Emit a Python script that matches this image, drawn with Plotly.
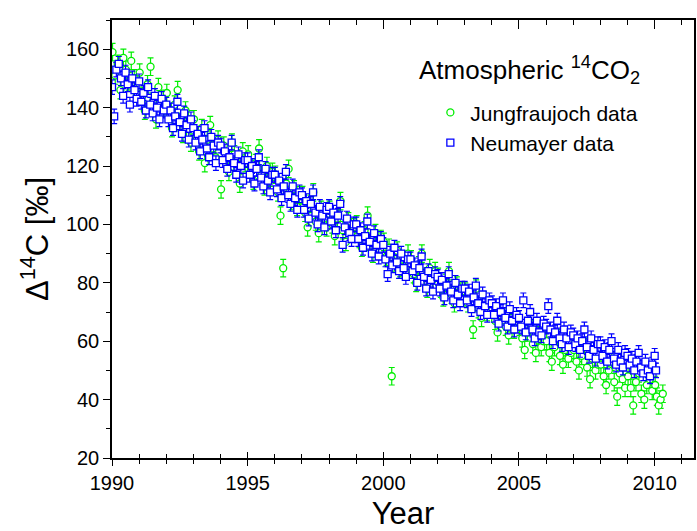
import plotly.graph_objects as go

# ---------------- data ----------------
# Jungfraujoch: year, Delta14C (permil)
jf_year = [
    1990.02, 1990.12, 1990.21, 1990.31, 1990.42, 1990.51, 1990.62, 1990.71, 1990.82, 1990.91,
    1991.02, 1991.12, 1991.21, 1991.31, 1991.42, 1991.51, 1991.62, 1991.71, 1991.82, 1991.91,
    1992.02, 1992.12, 1992.21, 1992.31, 1992.42, 1992.51, 1992.62, 1992.71, 1992.82, 1992.91,
    1993.02, 1993.12, 1993.21, 1993.31, 1993.42, 1993.51, 1993.62, 1993.71, 1993.82, 1993.91,
    1994.02, 1994.12, 1994.21, 1994.31, 1994.42, 1994.51, 1994.62, 1994.71, 1994.82, 1994.91,
    1995.02, 1995.12, 1995.21, 1995.31, 1995.42, 1995.51, 1995.62, 1995.71, 1995.82, 1995.91,
    1996.02, 1996.12, 1996.21, 1996.31, 1996.42, 1996.51, 1996.62, 1996.71, 1996.82, 1996.91,
    1997.02, 1997.12, 1997.21, 1997.31, 1997.42, 1997.51, 1997.62, 1997.71, 1997.82, 1997.91,
    1998.02, 1998.12, 1998.21, 1998.31, 1998.42, 1998.51, 1998.62, 1998.71, 1998.82, 1998.91,
    1999.02, 1999.12, 1999.21, 1999.31, 1999.42, 1999.51, 1999.62, 1999.71, 1999.82, 1999.91,
    2000.02, 2000.12, 2000.21, 2000.31, 2000.42, 2000.51, 2000.62, 2000.71, 2000.82, 2000.91,
    2001.02, 2001.12, 2001.21, 2001.31, 2001.42, 2001.51, 2001.62, 2001.71, 2001.82, 2001.91,
    2002.02, 2002.12, 2002.21, 2002.31, 2002.42, 2002.51, 2002.62, 2002.71, 2002.82, 2002.91,
    2003.02, 2003.12, 2003.21, 2003.31, 2003.42, 2003.51, 2003.62, 2003.71, 2003.82, 2003.91,
    2004.02, 2004.12, 2004.21, 2004.31, 2004.42, 2004.51, 2004.62, 2004.71, 2004.82, 2004.91,
    2005.02, 2005.12, 2005.21, 2005.31, 2005.42, 2005.51, 2005.62, 2005.71, 2005.82, 2005.91,
    2006.02, 2006.12, 2006.21, 2006.31, 2006.42, 2006.51, 2006.62, 2006.71, 2006.82, 2006.91,
    2007.02, 2007.12, 2007.21, 2007.31, 2007.42, 2007.51, 2007.62, 2007.71, 2007.82, 2007.91,
    2008.02, 2008.12, 2008.21, 2008.31, 2008.42, 2008.51, 2008.62, 2008.71, 2008.82, 2008.91,
    2009.02, 2009.12, 2009.21, 2009.31, 2009.42, 2009.51, 2009.62, 2009.71, 2009.82, 2009.91,
    2010.02, 2010.08, 2010.15, 2010.22, 2010.30]
jf_d14c = [
    159, 151, 155, 146, 157, 153, 149, 156, 150, 145,
    152, 144, 139, 148, 154, 142, 136, 147, 143, 140,
    145, 138, 133, 141, 146, 135, 131, 139, 136, 128,
    136, 130, 125, 133, 121, 129, 134, 126, 123, 129,
    112, 127, 122, 118, 128, 124, 119, 114, 125, 121,
    124, 119, 115, 121, 126, 117, 113, 120, 116, 118,
    117, 111, 103, 85, 114, 119, 108, 112, 106, 110,
    110, 104, 99, 107, 111, 101, 97, 105, 102, 99,
    105, 100, 96, 102, 108, 98, 94, 101, 97, 99,
    100, 95, 92, 98, 103, 94, 90, 97, 93, 95,
    94, 89, 92, 48, 87, 91, 85, 88, 84, 90,
    88, 83, 80, 86, 90, 82, 78, 85, 81, 84,
    82, 78, 75, 80, 84, 76, 73, 79, 77, 75,
    77, 73, 75, 64, 78, 71, 68, 74, 70, 72,
    71, 67, 63, 69, 72, 65, 62, 68, 64, 66,
    65, 61, 57, 63, 66, 59, 56, 62, 58, 60,
    60, 56, 53, 58, 61, 55, 52, 57, 54, 56,
    57, 53, 50, 55, 58, 51, 47, 54, 50, 52,
    52, 48, 45, 50, 53, 46, 41, 49, 47, 44,
    48, 44, 38, 46, 49, 42, 40, 45, 47, 43,
    45, 41, 38, 40, 42]

# Neumayer: year, Delta14C (permil)
nm_year = [
    1990.00, 1990.08, 1990.16, 1990.25, 1990.33, 1990.41, 1990.50, 1990.58, 1990.66, 1990.75, 1990.83, 1990.91,
    1991.00, 1991.08, 1991.16, 1991.25, 1991.33, 1991.41, 1991.50, 1991.58, 1991.66, 1991.75, 1991.83, 1991.91,
    1992.00, 1992.08, 1992.16, 1992.25, 1992.33, 1992.41, 1992.50, 1992.58, 1992.66, 1992.75, 1992.83, 1992.91,
    1993.00, 1993.08, 1993.16, 1993.25, 1993.33, 1993.41, 1993.50, 1993.58, 1993.66, 1993.75, 1993.83, 1993.91,
    1994.00, 1994.08, 1994.16, 1994.25, 1994.33, 1994.41, 1994.50, 1994.58, 1994.66, 1994.75, 1994.83, 1994.91,
    1995.00, 1995.08, 1995.16, 1995.25, 1995.33, 1995.41, 1995.50, 1995.58, 1995.66, 1995.75, 1995.83, 1995.91,
    1996.00, 1996.08, 1996.16, 1996.25, 1996.33, 1996.41, 1996.50, 1996.58, 1996.66, 1996.75, 1996.83, 1996.91,
    1997.00, 1997.08, 1997.16, 1997.25, 1997.33, 1997.41, 1997.50, 1997.58, 1997.66, 1997.75, 1997.83, 1997.91,
    1998.00, 1998.08, 1998.16, 1998.25, 1998.33, 1998.41, 1998.50, 1998.58, 1998.66, 1998.75, 1998.83, 1998.91,
    1999.00, 1999.08, 1999.16, 1999.25, 1999.33, 1999.41, 1999.50, 1999.58, 1999.66, 1999.75, 1999.83, 1999.91,
    2000.00, 2000.08, 2000.16, 2000.25, 2000.33, 2000.41, 2000.50, 2000.58, 2000.66, 2000.75, 2000.83, 2000.91,
    2001.00, 2001.08, 2001.16, 2001.25, 2001.33, 2001.41, 2001.50, 2001.58, 2001.66, 2001.75, 2001.83, 2001.91,
    2002.00, 2002.08, 2002.16, 2002.25, 2002.33, 2002.41, 2002.50, 2002.58, 2002.66, 2002.75, 2002.83, 2002.91,
    2003.00, 2003.08, 2003.16, 2003.25, 2003.33, 2003.41, 2003.50, 2003.58, 2003.66, 2003.75, 2003.83, 2003.91,
    2004.00, 2004.08, 2004.16, 2004.25, 2004.33, 2004.41, 2004.50, 2004.58, 2004.66, 2004.75, 2004.83, 2004.91,
    2005.00, 2005.08, 2005.16, 2005.25, 2005.33, 2005.41, 2005.50, 2005.58, 2005.66, 2005.75, 2005.83, 2005.91,
    2006.00, 2006.08, 2006.16, 2006.25, 2006.33, 2006.41, 2006.50, 2006.58, 2006.66, 2006.75, 2006.83, 2006.91,
    2007.00, 2007.08, 2007.16, 2007.25, 2007.33, 2007.41, 2007.50, 2007.58, 2007.66, 2007.75, 2007.83, 2007.91,
    2008.00, 2008.08, 2008.16, 2008.25, 2008.33, 2008.41, 2008.50, 2008.58, 2008.66, 2008.75, 2008.83, 2008.91,
    2009.00, 2009.08, 2009.16, 2009.25, 2009.33, 2009.41, 2009.50, 2009.58, 2009.66, 2009.75, 2009.83, 2009.91,
    2010.00, 2010.05]
nm_d14c = [
    147, 137, 153, 155, 150, 144, 152, 148, 141, 150, 146, 143,
    149, 142, 145, 139, 147, 141, 138, 144, 140, 136, 143, 139,
    141, 136, 139, 133, 137, 142, 135, 131, 138, 134, 129, 136,
    133, 128, 131, 125, 129, 133, 126, 123, 130, 127, 121, 128,
    127, 122, 125, 119, 123, 128, 121, 117, 124, 120, 115, 122,
    122, 117, 120, 114, 119, 123, 116, 113, 119, 115, 111, 117,
    117, 112, 115, 109, 113, 118, 110, 107, 113, 109, 105, 111,
    110, 105, 108, 102, 107, 111, 104, 100, 106, 103, 99, 105,
    106, 101, 104, 98, 103, 107, 93, 99, 102, 97, 95, 100,
    100, 95, 98, 92, 96, 101, 94, 90, 97, 93, 89, 95,
    93, 88, 83, 90, 86, 92, 87, 84, 90, 85, 82, 88,
    88, 84, 86, 80, 85, 89, 82, 78, 84, 81, 77, 83,
    82, 78, 81, 75, 79, 83, 77, 74, 80, 76, 73, 78,
    78, 74, 77, 71, 75, 79, 73, 70, 76, 72, 69, 74,
    73, 69, 72, 66, 70, 74, 68, 65, 71, 67, 64, 69,
    68, 65, 74, 63, 67, 70, 64, 61, 67, 63, 62, 66,
    65, 72, 64, 60, 63, 67, 61, 59, 64, 61, 58, 63,
    62, 59, 61, 57, 60, 64, 58, 55, 61, 57, 54, 59,
    59, 55, 58, 53, 57, 60, 54, 52, 57, 53, 51, 56,
    55, 52, 54, 50, 53, 56, 51, 49, 53, 50, 48, 52,
    55, 50]

x_range = [1990, 2011.45]
y_range = [20, 170]

FONT = "Liberation Sans, Arial, sans-serif"
GREEN = "#00ee00"
BLUE = "#0000ff"

fig = go.Figure()
fig.add_trace(go.Scatter(
    x=jf_year, y=jf_d14c, mode="markers", name="Jungfraujoch data",
    marker=dict(symbol="circle", size=7, color="white",
                line=dict(color=GREEN, width=1.3)),
    error_y=dict(type="constant", value=3, color=GREEN, thickness=1.2, width=3),
))
fig.add_trace(go.Scatter(
    x=nm_year, y=nm_d14c, mode="markers", name="Neumayer data",
    marker=dict(symbol="square", size=7, color="white",
                line=dict(color=BLUE, width=1.3)),
    error_y=dict(type="constant", value=2.5, color=BLUE, thickness=1.2, width=3),
))
# empty helper traces so the overlay axes (crossing / top ticks) render
fig.add_trace(go.Scatter(x=[], y=[], xaxis="x2", showlegend=False, hoverinfo="skip"))
fig.add_trace(go.Scatter(x=[], y=[], xaxis="x3", showlegend=False, hoverinfo="skip"))

common_x = dict(range=x_range, dtick=5, tick0=1990, showgrid=False,
                zeroline=False, automargin=False)

fig.update_layout(
    width=697, height=531,
    margin=dict(l=112, r=3, t=20, b=73),
    paper_bgcolor="white", plot_bgcolor="white",
    font=dict(family=FONT, size=20, color="black"),
    showlegend=True,
    legend=dict(x=0.547, y=0.835, xanchor="left", yanchor="top",
                bgcolor="rgba(0,0,0,0)", font=dict(size=21),
                itemsizing="trace", tracegroupgap=0),
    xaxis=dict(**common_x, showline=True, linecolor="black", linewidth=1.5,
               ticks="outside", ticklen=6, tickwidth=1.2, tickcolor="black",
               minor=dict(dtick=1, ticks="outside", ticklen=4, tickwidth=1.2, tickcolor="black"),
               title=dict(text="Year", font=dict(size=31), standoff=12),
               tickfont=dict(size=20)),
    xaxis2=dict(**common_x, overlaying="x", anchor="y", side="bottom",
                showline=False, showticklabels=False,
                ticks="inside", ticklen=6, tickwidth=1.2, tickcolor="black",
                minor=dict(dtick=1, ticks="inside", ticklen=4, tickwidth=1.2, tickcolor="black")),
    xaxis3=dict(**common_x, overlaying="x", anchor="y", side="top",
                showline=True, linecolor="black", linewidth=1.5, showticklabels=False,
                ticks="inside", ticklen=9, tickwidth=1.2, tickcolor="black",
                minor=dict(dtick=1, ticks="inside", ticklen=5, tickwidth=1.2, tickcolor="black")),
    yaxis=dict(range=y_range, dtick=20, tick0=20, showgrid=False, zeroline=False,
               automargin=False,
               showline=True, linecolor="black", linewidth=1.5, mirror=True,
               ticks="outside", ticklen=7, tickwidth=1.2, tickcolor="black",
               minor=dict(dtick=10, ticks="outside", ticklen=4, tickwidth=1.2, tickcolor="black"),
               title=dict(text="Δ<sup>14</sup>C [‰]", font=dict(size=31), standoff=8),
               tickfont=dict(size=20)),
    annotations=[dict(text="Atmospheric <sup>14</sup>CO<sub>2</sub>",
                      xref="paper", yref="paper", x=0.718, y=0.886,
                      xanchor="center", yanchor="middle", showarrow=False,
                      font=dict(size=26, family=FONT))],
)

fig.write_html("out.html", config={"displayModeBar": False},
               post_script="document.body.style.margin='0';")
